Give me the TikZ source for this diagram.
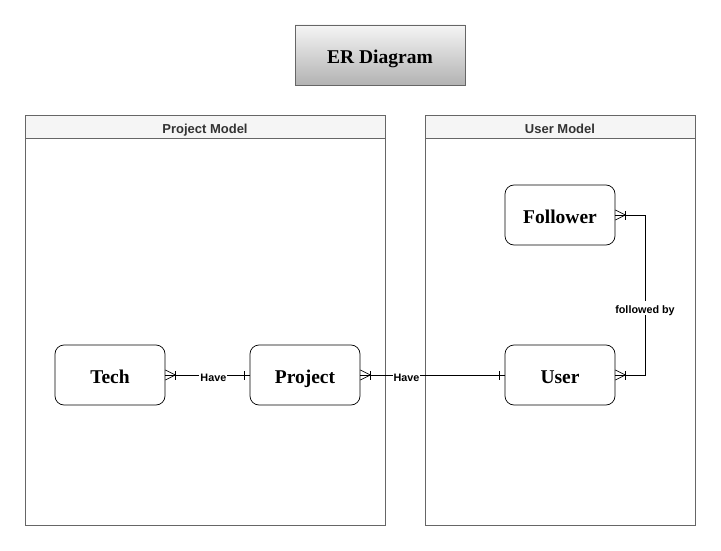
\documentclass[tikz,border=0pt]{standalone}
\usepackage{fontspec}
\setmainfont{Liberation Serif}
\setsansfont{Liberation Sans}
\begin{document}
\begin{tikzpicture}[x=1pt,y=-1pt,
  lane/.style={draw=black!60,line width=0.8pt},
  lanehead/.style={draw=black!60,fill=black!4,line width=0.8pt},
  lanetitle/.style={font=\sffamily\bfseries\fontsize{13}{15}\selectfont,text=black!80,text height=11pt,text depth=0pt},
  entity/.style={draw=black,rounded corners=9pt,minimum width=110pt,minimum height=60pt,font=\bfseries\fontsize{19.5}{22}\selectfont,line width=0.7pt,text height=16.6pt,text depth=0pt},
  rel/.style={draw=black,line width=0.7pt},
  rellabel/.style={fill=white,font=\sffamily\bfseries\fontsize{10.8}{12}\selectfont,inner sep=1pt,text height=12pt,text depth=0pt}
]
\useasboundingbox (0,0) rectangle (721,551);
\fill[white] (0,0) rectangle (721,551);
% title
\node[draw=black!60,top color=black!4,bottom color=black!30,minimum width=170pt,minimum height=60pt,font=\bfseries\fontsize{19.5}{22}\selectfont,line width=0.7pt,text height=16.6pt,text depth=0pt] (title) at (380,55) {ER Diagram};
% swimlanes
\draw[lane] (25,115) rectangle (385,525);
\draw[lanehead] (25,115) rectangle (385,138);
\node[lanetitle] (plt) at (205,127.5) {Project Model};
\draw[lane] (425,115) rectangle (695,525);
\draw[lanehead] (425,115) rectangle (695,138);
\node[lanetitle] (ult) at (560,127.5) {User Model};
% entities
\node[entity] (follower) at (560,215) {Follower};
\node[entity] (user) at (560,375) {User};
\node[entity] (tech) at (110,375) {Tech};
\node[entity] (project) at (305,375) {Project};
% connectors
\draw[rel] (tech.east) -- (project.west) node[rellabel,pos=0.57] (l1) {Have};
\draw[rel] (project.east) -- (user.west) node[rellabel,pos=0.32] (l2) {Have};
\coordinate (c1) at (645,375);
\coordinate (c2) at (645,215);
\draw[rel] (user.east) -- (c1) -- (c2) -- (follower.east);
\node[rellabel] (l3) at (645,307.5) {followed by};
% crow's feet (many)
\foreach \n in {tech,project,user,follower}{
  \draw[rel] ([yshift=-5pt]\n.east) -- ([xshift=10pt]\n.east) -- ([yshift=5pt]\n.east);
  \draw[rel] ([xshift=10pt,yshift=-4.5pt]\n.east) -- ([xshift=10pt,yshift=4.5pt]\n.east);
}
% one bars
\foreach \n in {project,user}{
  \draw[rel] ([xshift=-5pt,yshift=-4.5pt]\n.west) -- ([xshift=-5pt,yshift=4.5pt]\n.west);
}
\end{tikzpicture}
\end{document}
